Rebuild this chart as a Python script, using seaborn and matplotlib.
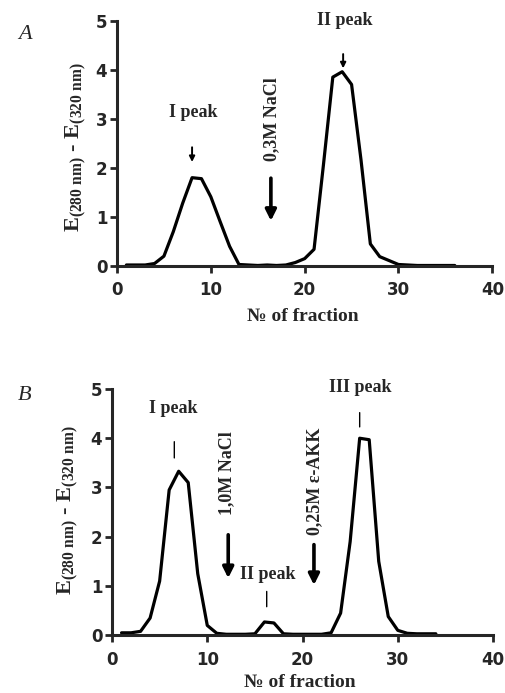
import matplotlib
matplotlib.use("Agg")
import matplotlib.pyplot as plt
import seaborn as sns
import pandas as pd

# ---- data ----
fractions_a = list(range(1, 37))
values_a = [0.02, 0.02, 0.02, 0.05, 0.2, 0.7, 1.28, 1.8, 1.78, 1.41,
            0.9, 0.4, 0.03, 0.02, 0.01, 0.02, 0.01, 0.02, 0.07, 0.15,
            0.34, 2.06, 3.85, 3.96, 3.7, 2.17, 0.45, 0.19, 0.11, 0.03,
            0.02, 0.01, 0.01, 0.01, 0.01, 0.01]

fractions_b = list(range(1, 35))
values_b = [0.05, 0.05, 0.08, 0.35, 1.1, 2.95, 3.33, 3.1, 1.25, 0.2,
            0.04, 0.02, 0.02, 0.02, 0.03, 0.27, 0.25, 0.03, 0.02, 0.02,
            0.02, 0.02, 0.05, 0.45, 1.9, 4.0, 3.97, 1.5, 0.38, 0.1,
            0.04, 0.03, 0.03, 0.03]

x_ticks = [0, 10, 20, 30, 40]
y_ticks = [0, 1, 2, 3, 4, 5]
x_label = "№ of fraction"
y_label = r"$\mathrm{E}_{\mathrm{(280\ nm)}}\ \text{-}\ \mathrm{E}_{\mathrm{(320\ nm)}}$"

sns.set_style("ticks")
plt.rcParams["font.family"] = ["DejaVu Sans"]
plt.rcParams["mathtext.fontset"] = "custom"
plt.rcParams["mathtext.rm"] = "Liberation Serif:bold"
plt.rcParams["mathtext.bf"] = "Liberation Serif:bold"
plt.rcParams["mathtext.it"] = "Liberation Serif:italic:bold"

SERIF = ["Liberation Serif", "DejaVu Serif"]

fig = plt.figure(figsize=(5.05, 6.93), dpi=100)
ax_a = fig.add_axes([0.2317, 0.6162, 0.7432, 0.3539])
ax_b = fig.add_axes([0.2218, 0.0833, 0.7545, 0.3554])

df_a = pd.DataFrame({"fraction": fractions_a, "value": values_a})
df_b = pd.DataFrame({"fraction": fractions_b, "value": values_b})

for ax, df in ((ax_a, df_a), (ax_b, df_b)):
    sns.lineplot(data=df, x="fraction", y="value", ax=ax, color="black",
                 linewidth=2.3, clip_on=False, zorder=3)
    ax.set_xlim(0, 40)
    ax.set_ylim(0, 5)
    ax.set_xticks(x_ticks)
    ax.set_yticks(y_ticks)
    for s in ("top", "right"):
        ax.spines[s].set_visible(False)
    for s in ("left", "bottom"):
        ax.spines[s].set_linewidth(2.2)
        ax.spines[s].set_zorder(4)
    ax.tick_params(axis="both", direction="out", length=5, width=2.0,
                   labelsize=12)
    ax.tick_params(axis="x", pad=6)
    ax.tick_params(axis="y", pad=2)
    for lab in ax.get_xticklabels() + ax.get_yticklabels():
        lab.set_fontweight("bold")
    ax.set_xlabel(x_label, family=SERIF, fontweight="bold", fontsize=14)
    ax.set_ylabel(y_label, fontsize=16)

ax_a.xaxis.set_label_coords(0.496, -0.171)
ax_a.yaxis.set_label_coords(-0.078, 0.485)
ax_b.xaxis.set_label_coords(0.493, -0.158)
ax_b.yaxis.set_label_coords(-0.085, 0.509)

lbl = dict(family=SERIF, fontweight="bold", fontsize=13, ha="center", va="center")
big = dict(arrowstyle="-|>", lw=2.6, color="black", mutation_scale=16,
           shrinkA=0, shrinkB=0)
small = dict(arrowstyle="-|>", lw=1.4, color="black", mutation_scale=8,
             shrinkA=0, shrinkB=0)
bar = dict(arrowstyle="-", lw=1.0, color="black", shrinkA=0, shrinkB=0)

# Panel A annotations
ax_a.text(8.1, 3.12, "I peak", **lbl)
ax_a.annotate("", xy=(8.0, 2.12), xytext=(8.0, 2.42), arrowprops=small)
ax_a.text(16.5, 2.99, "0,3M NaCl", rotation=90, **lbl)
ax_a.annotate("", xy=(16.4, 0.92), xytext=(16.4, 1.79), arrowprops=big)
ax_a.text(24.3, 5.0, "II peak", **lbl)
ax_a.annotate("", xy=(24.1, 4.03), xytext=(24.1, 4.32), arrowprops=small)

# Panel B annotations
ax_b.text(6.44, 4.61, "I peak", **lbl)
ax_b.annotate("", xy=(6.54, 3.60), xytext=(6.54, 3.93), arrowprops=bar)
ax_b.text(12.05, 3.30, "1,0M NaCl", rotation=90, **lbl)
ax_b.annotate("", xy=(12.2, 1.16), xytext=(12.2, 2.04), arrowprops=big)
ax_b.text(16.4, 1.23, "II peak", **lbl)
ax_b.annotate("", xy=(16.24, 0.58), xytext=(16.24, 0.89), arrowprops=bar)
ax_b.text(21.3, 3.12, "0,25M ε-AKK", rotation=90, **lbl)
ax_b.annotate("", xy=(21.2, 1.02), xytext=(21.2, 1.84), arrowprops=big)
ax_b.text(26.04, 5.02, "III peak", **lbl)
ax_b.annotate("", xy=(26.0, 4.23), xytext=(26.0, 4.52), arrowprops=bar)

fig.text(0.0495, 0.9495, "A", family=SERIF, style="italic", fontsize=16,
         ha="center", va="center")
fig.text(0.0495, 0.430, "B", family=SERIF, style="italic", fontsize=16,
         ha="center", va="center")

fig.savefig("out.png", dpi=100, facecolor="white")
